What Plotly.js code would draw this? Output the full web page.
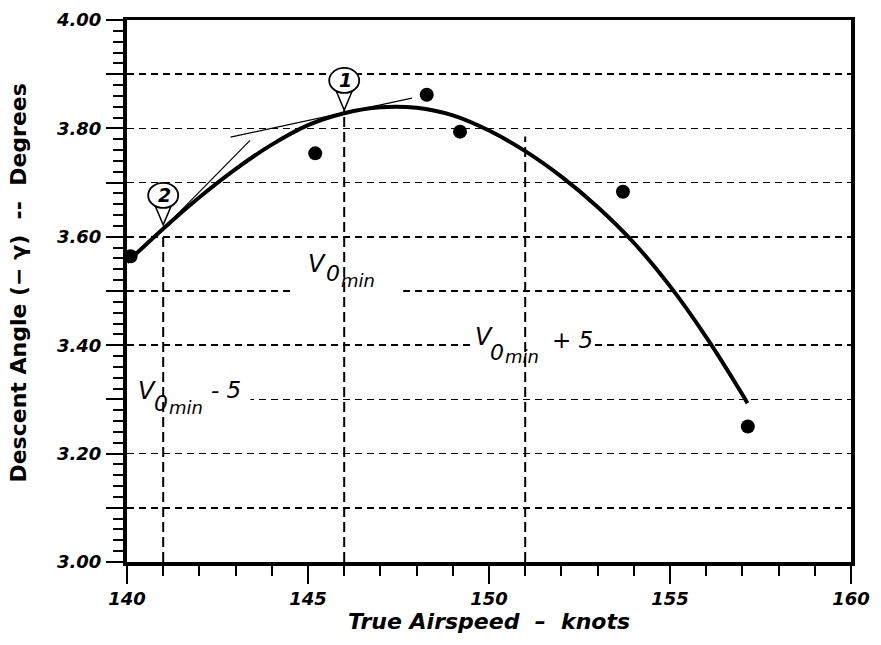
<!DOCTYPE html>
<html>
<head>
<meta charset="utf-8">
<script src="https://cdn.plot.ly/plotly-3.0.1.min.js"></script>
<style>html,body{margin:0;padding:0;background:#fff;}#chart{width:881px;height:645px;}</style>
</head>
<body>
<div id="chart"></div>
<script>
// ---- data ----
var curveSpeed = [140, 141, 142, 143, 144, 145, 146, 147, 148, 149, 150, 151, 152, 153, 154, 155, 156, 157, 157.14];
var curveAngle = [3.553, 3.615, 3.673, 3.725, 3.770, 3.806, 3.828, 3.839, 3.838, 3.824, 3.796, 3.758, 3.711, 3.655, 3.589, 3.509, 3.415, 3.309, 3.293];

var obsSpeed = [140.1, 145.2, 148.28, 149.2, 153.7, 157.15];
var obsAngle = [3.564, 3.754, 3.862, 3.794, 3.683, 3.250];

var tangent1Speed = [142.86, 147.87];
var tangent1Angle = [3.784, 3.856];
var tangent2Speed = [141.0, 143.4];
var tangent2Angle = [3.615, 3.778];

var refSpeed = [141, 146, 151];
var refTop = [3.60, 3.834, 3.785];

var calloutSpeed = [146, 141];
var calloutAngle = [3.834, 3.622];
var calloutText = ['1', '2'];

var xTickVals = [140, 145, 150, 155, 160];
var xTickText = ['140', '145', '150', '155', '160'];
var yTickVals = [3.0, 3.1, 3.2, 3.3, 3.4, 3.5, 3.6, 3.7, 3.8, 3.9, 4.0];
var yTickText = ['3.00', '', '3.20', '', '3.40', '', '3.60', '', '3.80', '', '4.00'];

// ---- traces ----
var traces = [];
for (var i = 0; i < refSpeed.length; i++) {
  traces.push({
    x: [refSpeed[i], refSpeed[i]], y: [3.0, refTop[i]],
    mode: 'lines', line: {color: '#000', width: 2, dash: '10px,5px'},
    hoverinfo: 'skip', showlegend: false
  });
}
traces.push({x: tangent1Speed, y: tangent1Angle, mode: 'lines', line: {color: '#000', width: 1.2}, showlegend: false});
traces.push({x: tangent2Speed, y: tangent2Angle, mode: 'lines', line: {color: '#000', width: 1.2}, showlegend: false});
traces.push({
  x: curveSpeed, y: curveAngle, mode: 'lines',
  line: {color: '#000', width: 4, shape: 'spline', smoothing: 1}, showlegend: false
});
traces.push({
  x: obsSpeed, y: obsAngle, mode: 'markers', cliponaxis: false,
  marker: {color: '#000', size: 14}, showlegend: false
});

// ---- shapes: white boxes behind labels, callout pins ----
var shapes = [
  {type: 'rect', layer: 'between', xref: 'x', yref: 'y', x0: 144.59, x1: 147.63, y0: 3.49, y1: 3.51, fillcolor: '#fff', line: {width: 0}},
  {type: 'rect', layer: 'between', xref: 'x', yref: 'y', x0: 149.48, x1: 152.87, y0: 3.39, y1: 3.41, fillcolor: '#fff', line: {width: 0}},
  {type: 'rect', layer: 'between', xref: 'x', yref: 'y', x0: 140, x1: 143.41, y0: 3.29, y1: 3.31, fillcolor: '#fff', line: {width: 0}}
];
var annotations = [];
for (var j = 0; j < calloutSpeed.length; j++) {
  shapes.push({
    type: 'path', layer: 'above', xref: 'x', yref: 'y', xsizemode: 'pixel', ysizemode: 'pixel',
    xanchor: calloutSpeed[j], yanchor: calloutAngle[j],
    path: 'M-8,19 L8,19 L0,0 Z', fillcolor: '#fff', line: {color: '#000', width: 1.5}
  });
  shapes.push({
    type: 'circle', layer: 'above', xref: 'x', yref: 'y', xsizemode: 'pixel', ysizemode: 'pixel',
    xanchor: calloutSpeed[j], yanchor: calloutAngle[j],
    x0: -15, x1: 15, y0: 17, y1: 42, fillcolor: '#fff', line: {color: '#000', width: 1.8}
  });
  annotations.push({
    xref: 'x', yref: 'y', x: calloutSpeed[j], y: calloutAngle[j], yshift: 30, xshift: 1,
    text: calloutText[j], showarrow: false, xanchor: 'center', yanchor: 'middle',
    font: {family: 'DejaVu Sans', size: 19, color: '#000', style: 'italic', weight: 'bold'}
  });
}

function vLabel(ax, ay, parts) {
  parts.forEach(function (p) {
    annotations.push({
      xref: 'x', yref: 'y', x: ax, y: ay, xshift: p[1], yshift: p[2],
      text: p[0], showarrow: false, xanchor: 'left', yanchor: 'middle',
      font: {family: 'DejaVu Sans', size: p[3], color: '#000', style: 'italic'}
    });
  });
}
vLabel(144.59, 3.50, [['V', 13, 27, 24], ['0', 31, 18, 22], ['min', 46, 11, 18]]);
vLabel(149.48, 3.40, [['V', 3, 8, 24], ['0', 18, -7, 22], ['min', 33, -11, 18], ['+ 5', 80, 5, 23]]);
vLabel(140, 3.30, [['V', 9, 8, 24], ['0', 25, -4, 22], ['min', 40, -8, 18], ['- 5', 82, 9, 23]]);

// y-axis title as a rotated annotation placed where the reference puts it
annotations.push({
  xref: 'paper', yref: 'paper', x: -0.1497, y: 0.5148, xanchor: 'center', yanchor: 'middle',
  textangle: -90, showarrow: false,
  text: 'Descent Angle (\u2212 \u03b3)  --  Degrees',
  font: {family: 'DejaVu Sans', size: 22, color: '#000', weight: 'bold'}
});

var layout = {
  width: 881, height: 645,
  margin: {l: 126.5, r: 29.5, t: 20, b: 83},
  paper_bgcolor: '#fff', plot_bgcolor: '#fff',
  showlegend: false,
  xaxis: {
    range: [140, 160], tickvals: xTickVals, ticktext: xTickText,
    ticks: 'outside', ticklen: 18, tickwidth: 2, tickcolor: '#000',
    minor: {dtick: 1, ticks: 'outside', ticklen: 10, tickwidth: 2, tickcolor: '#000', showgrid: false},
    showgrid: false, zeroline: false,
    showline: true, linecolor: '#000', linewidth: 3.5, mirror: true,
    ticklabelstandoff: 0,
    tickfont: {family: 'DejaVu Sans', size: 18, color: '#000', weight: 'bold', style: 'italic'},
    title: {text: 'True Airspeed  \u2013  knots', standoff: 2,
      font: {family: 'DejaVu Sans', size: 22, color: '#000', weight: 'bold', style: 'italic'}}
  },
  yaxis: {
    range: [3.0, 4.0], tickvals: yTickVals, ticktext: yTickText,
    ticks: 'outside', ticklen: 17, tickwidth: 2, tickcolor: '#000',
    minor: {dtick: 0.02, ticks: 'outside', ticklen: 10, tickwidth: 2, tickcolor: '#000', showgrid: false},
    showgrid: true, gridcolor: '#000', gridwidth: 1.6, griddash: '7px,5px',
    zeroline: false,
    showline: true, linecolor: '#000', linewidth: 4, mirror: true,
    ticklabelstandoff: 1,
    tickfont: {family: 'DejaVu Sans', size: 18, color: '#000', weight: 'bold', style: 'italic'}
  },
  shapes: shapes,
  annotations: annotations
};

Plotly.newPlot('chart', traces, layout, {staticPlot: true, displayModeBar: false});
</script>
</body>
</html>
